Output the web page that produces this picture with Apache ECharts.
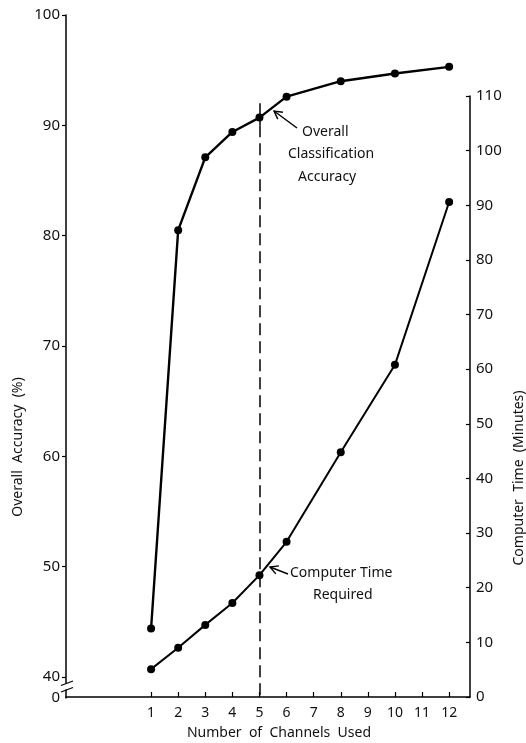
<!DOCTYPE html>
<html><head><meta charset="utf-8">
<script src="https://cdn.jsdelivr.net/npm/echarts@6/dist/echarts.min.js"></script>
<style>html,body{margin:0;padding:0;background:#fff}#c{width:526px;height:743px}</style>
</head><body><div id="c"></div>
<script>
// ---- data ----
const channels = [1, 2, 3, 4, 5, 6, 8, 10, 12];
const accuracy = [44.4, 80.5, 87.1, 89.4, 90.7, 92.6, 94.0, 94.7, 95.3];      // %
const computerTime = [5.1, 9.0, 13.2, 17.2, 22.3, 28.4, 44.8, 60.8, 90.6];   // minutes
const xTickLabels = [1, 2, 3, 4, 5, 6, 7, 8, 9, 10, 11, 12];
const accuracyTicks = [40, 50, 60, 70, 80, 90, 100];
const timeTicks = [0, 10, 20, 30, 40, 50, 60, 70, 80, 90, 100, 110];
const selectedChannels = 5;

const FONT = '"Noto Sans", "DejaVu Sans", sans-serif';
const accMin = 38.1;   // bottom of broken accuracy axis (shown as "0")
const xMin = -2.14, xMax = 12.77;

const chart = echarts.init(document.getElementById('c'), null, {renderer: 'canvas'});

function arrow(tail, tip) {
  const dx = tail[0] - tip[0], dy = tail[1] - tip[1];
  const L = Math.hypot(dx, dy), ux = dx / L, uy = dy / L;
  const a = 0.5, len = 9;
  const p1 = [tip[0] + len * (ux * Math.cos(a) - uy * Math.sin(a)), tip[1] + len * (ux * Math.sin(a) + uy * Math.cos(a))];
  const p2 = [tip[0] + len * (ux * Math.cos(-a) - uy * Math.sin(-a)), tip[1] + len * (ux * Math.sin(-a) + uy * Math.cos(-a))];
  const st = {stroke: '#000', lineWidth: 1.4, fill: null};
  return [
    {type: 'line', shape: {x1: tail[0], y1: tail[1], x2: tip[0], y2: tip[1]}, style: st, z: 100},
    {type: 'polyline', shape: {points: [p1, tip, p2]}, style: st, z: 100}
  ];
}

function txt(text, x, y, opts) {
  return Object.assign({
    type: 'text', x: x, y: y, z: 100,
    style: {text: text, x: 0, y: 0, font: '14px ' + FONT, fill: '#111', align: 'left', verticalAlign: 'middle'}
  }, opts || {});
}

const graphics = [
  // axis break on the accuracy axis
  {type: 'rect', shape: {x: 61, y: 683.5, width: 10, height: 6}, style: {fill: '#fff'}, z: 100},
  {type: 'line', shape: {x1: 61, y1: 685.5, x2: 73, y2: 681}, style: {stroke: '#000', lineWidth: 1.3}, z: 101},
  {type: 'line', shape: {x1: 61, y1: 692, x2: 73, y2: 687.5}, style: {stroke: '#000', lineWidth: 1.3}, z: 101},
  // annotations
  txt('Overall', 302, 132),
  txt('Classification', 288, 154),
  txt('Accuracy', 298, 177),
  ...arrow([297, 128], [274, 111]),
  txt('Computer Time', 290, 573),
  txt('Required', 313, 595),
  ...arrow([288, 574], [270, 567]),
  // axis titles
  {type: 'text', x: 18, y: 447, rotation: Math.PI / 2, z: 100,
   style: {text: 'Overall  Accuracy  (%)', x: 0, y: 0, font: '14px ' + FONT, fill: '#111', align: 'center', verticalAlign: 'middle'}},
  {type: 'text', x: 519, y: 478, rotation: Math.PI / 2, z: 100,
   style: {text: 'Computer  Time  (Minutes)', x: 0, y: 0, font: '14px ' + FONT, fill: '#111', align: 'center', verticalAlign: 'middle'}},
  {type: 'text', x: 279, y: 733, z: 100,
   style: {text: 'Number  of  Channels  Used', x: 0, y: 0, font: '14px ' + FONT, fill: '#111', align: 'center', verticalAlign: 'middle'}}
];

const option = {
  animation: false,
  backgroundColor: '#fff',
  grid: [
    {left: 66, right: 56, top: 15, bottom: 45, containLabel: false},
    {left: 66, right: 56, top: 96, bottom: 46, containLabel: false}
  ],
  xAxis: [
    {gridIndex: 0, type: 'value', min: xMin, max: xMax, show: false},
    {gridIndex: 1, type: 'value', min: xMin, max: xMax,
     axisLine: {show: true, onZero: false, lineStyle: {color: '#000', width: 1.5}},
     axisTick: {show: true, inside: true, length: 5, customValues: xTickLabels, lineStyle: {color: '#000', width: 1.2}},
     axisLabel: {customValues: xTickLabels, margin: 9, color: '#111', fontFamily: FONT, fontSize: 14},
     splitLine: {show: false}}
  ],
  yAxis: [
    {gridIndex: 0, type: 'value', position: 'left', min: accMin, max: 100,
     axisLine: {show: true, onZero: false, lineStyle: {color: '#000', width: 1.5}},
     axisTick: {show: true, inside: false, length: 4, customValues: accuracyTicks, lineStyle: {color: '#000', width: 1.2}},
     axisLabel: {customValues: [accMin].concat(accuracyTicks), margin: 6, color: '#111', fontFamily: FONT, fontSize: 15,
                 formatter: v => (v < 39 ? '0' : String(Math.round(v)))},
     splitLine: {show: false}},
    {gridIndex: 1, type: 'value', position: 'right', min: 0, max: 110, interval: 10,
     axisLine: {show: true, onZero: false, lineStyle: {color: '#000', width: 1.5}},
     axisTick: {show: true, inside: true, length: 4, customValues: timeTicks, lineStyle: {color: '#000', width: 1.2}},
     axisLabel: {customValues: timeTicks, margin: 6, color: '#111', fontFamily: FONT, fontSize: 15},
     splitLine: {show: false}}
  ],
  series: [
    {name: 'Overall Classification Accuracy', type: 'line', xAxisIndex: 0, yAxisIndex: 0,
     data: channels.map((c, i) => [c, accuracy[i]]),
     symbol: 'circle', symbolSize: 8, itemStyle: {color: '#000'},
     lineStyle: {color: '#000', width: 2.4}, z: 5,
     markLine: {silent: true, symbol: ['none', 'none'], label: {show: false},
       lineStyle: {color: '#000', width: 1.5},
       data: [
         [{coord: [selectedChannels, 92.0], lineStyle: {type: 'solid', color: '#000', width: 1.5}}, {coord: [selectedChannels, 90.0]}],
         [{coord: [selectedChannels, 90.0], lineStyle: {type: [12, 6], color: '#000', width: 1.5}}, {coord: [selectedChannels, accMin]}]
       ]}},
    {name: 'Computer Time Required', type: 'line', xAxisIndex: 1, yAxisIndex: 1,
     data: channels.map((c, i) => [c, computerTime[i]]),
     symbol: 'circle', symbolSize: 8, itemStyle: {color: '#000'},
     lineStyle: {color: '#000', width: 2}, z: 5}
  ],
  graphic: graphics
};
chart.setOption(option);
</script>
</body></html>
